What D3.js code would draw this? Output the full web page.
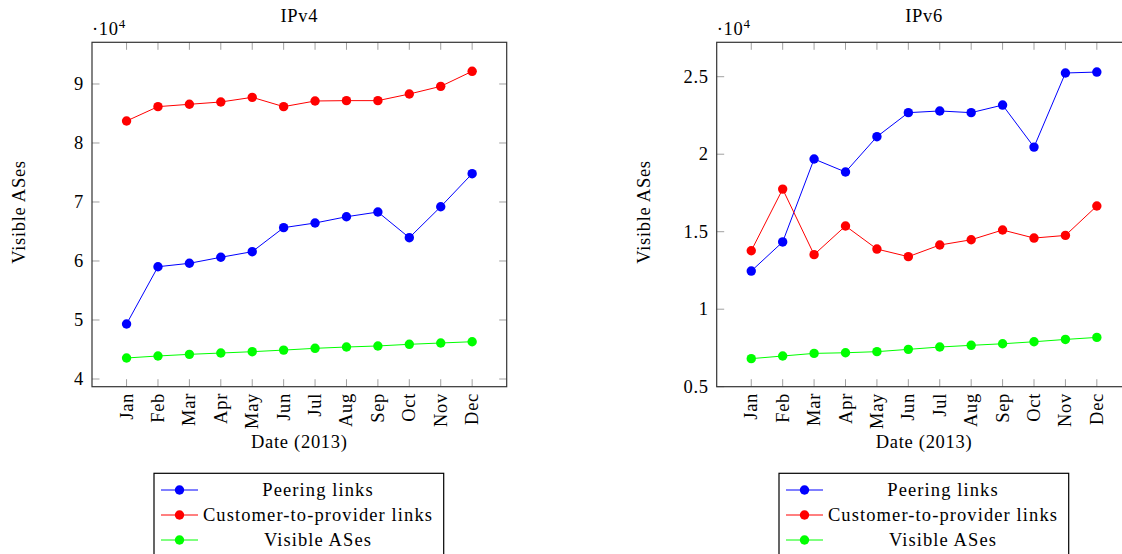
<!DOCTYPE html>
<html>
<head>
<meta charset="utf-8">
<script src="https://cdn.jsdelivr.net/npm/d3@7"></script>
<style>
  body { margin: 0; background: #fff; }
  svg text { font-family: "Liberation Serif", "DejaVu Serif", serif; fill: #000; font-size: 18.5px; letter-spacing: 0.7px; }
</style>
</head>
<body>
<svg id="chart" width="1122" height="554"></svg>
<script>
// months along the x axis
var months = ["Jan", "Feb", "Mar", "Apr", "May", "Jun", "Jul", "Aug", "Sep", "Oct", "Nov", "Dec"];

// IPv4 series
var v4Peering = [49320, 59030, 59610, 60630, 61580, 65650, 66440, 67500, 68300, 63950, 69200, 74800];
var v4Customer = [83730, 86160, 86560, 86950, 87740, 86160, 87120, 87180, 87180, 88300, 89600, 92150];
var v4Visible = [43560, 43900, 44180, 44400, 44630, 44900, 45200, 45420, 45600, 45880, 46100, 46320];

// IPv6 series
var v6Peering = [12460, 14340, 19690, 18850, 21130, 22680, 22790, 22680, 23170, 20460, 25240, 25300];
var v6Customer = [13770, 17750, 13520, 15370, 13880, 13390, 14140, 14480, 15110, 14590, 14760, 16660];
var v6Visible = [6810, 6980, 7150, 7190, 7260, 7410, 7560, 7670, 7770, 7900, 8050, 8180];

var v4Ticks = [4, 5, 6, 7, 8, 9];
var v6Ticks = [0.5, 1, 1.5, 2, 2.5];

var seriesNames = ["Peering links", "Customer-to-provider links", "Visible ASes"];
var seriesColors = ["#0000ff", "#ff0000", "#00ff00"];

var svg = d3.select("#chart");

function drawPanel(opt)
{
    var g = svg.append("g");
    var x = d3.scaleLinear().domain([-1.1, 12.1]).range([opt.left, opt.left + 414.7]);
    var y = d3.scaleLinear().domain(opt.yDomain).range([386.7, 42.3]);
    var top = 42.3, bottom = 386.7, left = opt.left, right = opt.left + 414.7;

    // inner ticks on all four sides
    var tickCol = "#a0a0a0", tl = 7.5;
    months.forEach(function(m, i) {
        g.append("line").attr("x1", x(i)).attr("x2", x(i)).attr("y1", bottom).attr("y2", bottom - tl)
            .attr("stroke", tickCol).attr("stroke-width", 1);
        g.append("line").attr("x1", x(i)).attr("x2", x(i)).attr("y1", top).attr("y2", top + tl)
            .attr("stroke", tickCol).attr("stroke-width", 1);
        g.append("text")
            .attr("transform", "translate(" + (x(i) + 6) + "," + 393 + ") rotate(-90)")
            .attr("text-anchor", "end")
            .text(m);
    });
    opt.ticks.forEach(function(t) {
        g.append("line").attr("x1", left).attr("x2", left + tl).attr("y1", y(t)).attr("y2", y(t))
            .attr("stroke", tickCol).attr("stroke-width", 1);
        g.append("line").attr("x1", right).attr("x2", right - tl).attr("y1", y(t)).attr("y2", y(t))
            .attr("stroke", tickCol).attr("stroke-width", 1);
        g.append("text")
            .attr("x", left - 8).attr("y", y(t) + 6)
            .attr("text-anchor", "end")
            .text(t);
    });

    // frame
    g.append("rect").attr("x", left).attr("y", top).attr("width", right - left).attr("height", bottom - top)
        .attr("fill", "none").attr("stroke", "#333").attr("stroke-width", 1.2);

    // series
    var line = d3.line().x(function(d, i) { return x(i); }).y(function(d) { return y(d / 10000); });
    opt.series.forEach(function(s, k) {
        g.append("path").datum(s).attr("d", line)
            .attr("fill", "none").attr("stroke", seriesColors[k]).attr("stroke-width", 1);
        g.selectAll(null).data(s).enter().append("circle")
            .attr("cx", function(d, i) { return x(i); })
            .attr("cy", function(d) { return y(d / 10000); })
            .attr("r", 4.7)
            .attr("fill", seriesColors[k]);
    });

    // exponent label
    var ex = g.append("text").attr("x", left).attr("y", 35);
    ex.append("tspan").text("\u00b710");
    ex.append("tspan").attr("dy", -7).style("font-size", "13px").text("4");

    var cx = (left + right) / 2;
    g.append("text").attr("x", cx).attr("y", 22).attr("text-anchor", "middle").text(opt.title);
    g.append("text").attr("x", cx).attr("y", 448).attr("text-anchor", "middle").text("Date (2013)");
    g.append("text")
        .attr("transform", "translate(" + opt.yLabelX + "," + 212 + ") rotate(-90)")
        .attr("text-anchor", "middle")
        .text("Visible ASes");

    // legend
    var lx = opt.legendX;
    g.append("rect").attr("x", lx).attr("y", 473.3).attr("width", 289.7).attr("height", 100)
        .attr("fill", "#fff").attr("stroke", "#000").attr("stroke-width", 1.2);
    seriesNames.forEach(function(n, k) {
        var ly = 490 + k * 25;
        g.append("line").attr("x1", lx + 7).attr("x2", lx + 44).attr("y1", ly).attr("y2", ly)
            .attr("stroke", seriesColors[k]).attr("stroke-width", 1);
        g.append("circle").attr("cx", lx + 25.5).attr("cy", ly).attr("r", 4.7).attr("fill", seriesColors[k]);
        g.append("text").attr("x", lx + 164).attr("y", ly + 6).attr("text-anchor", "middle")
            .style("letter-spacing", "1.1px").text(n);
    });
}

drawPanel({
    title: "IPv4", left: 92, yDomain: [3.8695, 9.7067], ticks: v4Ticks,
    series: [v4Peering, v4Customer, v4Visible], yLabelX: 25, legendX: 154
});
drawPanel({
    title: "IPv6", left: 716.7, yDomain: [0.5, 2.722], ticks: v6Ticks,
    series: [v6Peering, v6Customer, v6Visible], yLabelX: 650, legendX: 779
});
</script>
</body>
</html>
